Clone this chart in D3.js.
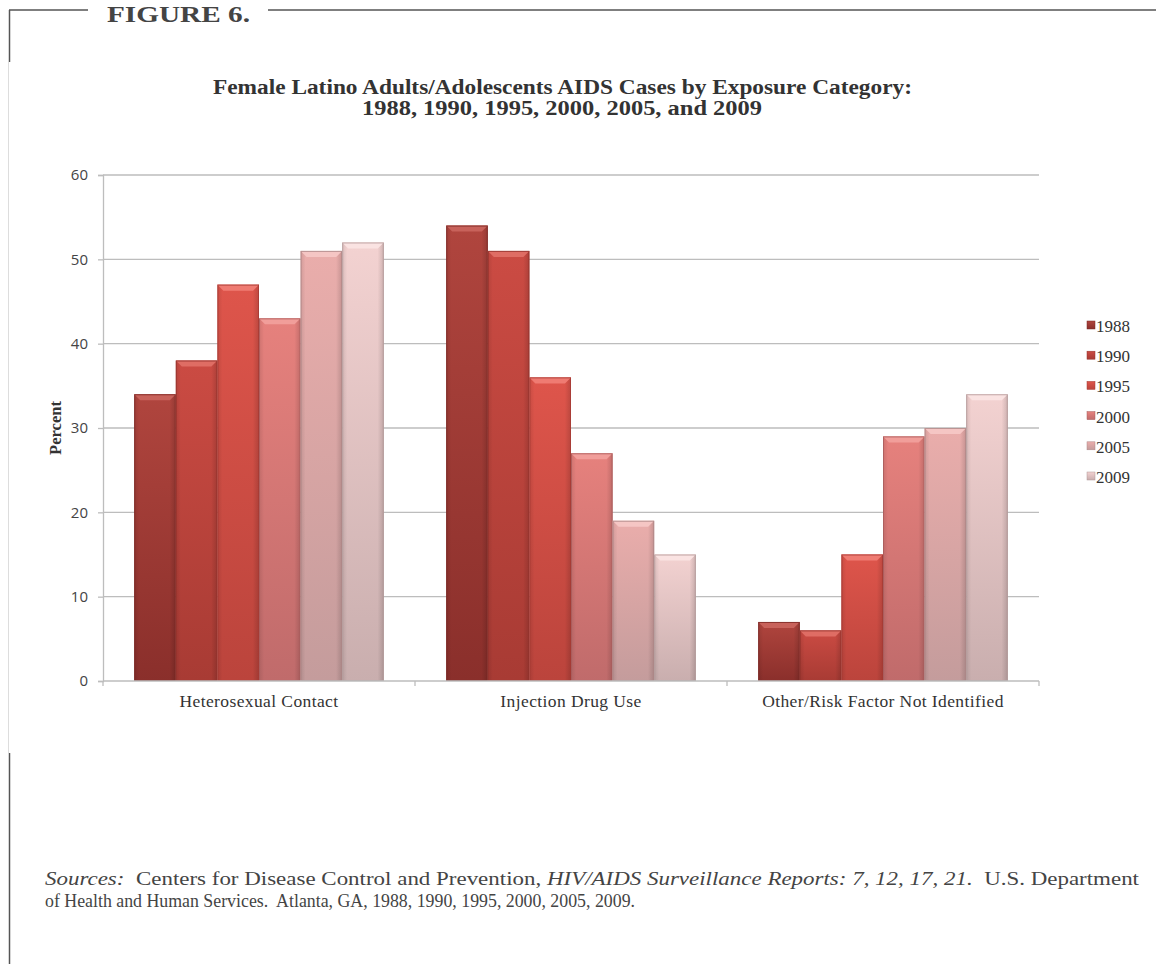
<!DOCTYPE html>
<html>
<head>
<meta charset="utf-8">
<script src="https://cdn.jsdelivr.net/npm/d3@7"></script>
<style>
  html, body { margin: 0; padding: 0; background: #fff; }
  svg { display: block; }
</style>
</head>
<body>
<svg id="chart" width="1156" height="964"></svg>
<script>
// ---- Data ----
const categories = ["Heterosexual Contact", "Injection Drug Use", "Other/Risk Factor Not Identified"];
const years = ["1988", "1990", "1995", "2000", "2005", "2009"];
const values1988 = [34, 54, 7];
const values1990 = [38, 51, 6];
const values1995 = [47, 36, 15];
const values2000 = [43, 27, 29];
const values2005 = [51, 19, 30];
const values2009 = [52, 15, 34];
const yTicks = [0, 10, 20, 30, 40, 50, 60];
const titleLines = ["Female Latino Adults/Adolescents AIDS Cases by Exposure Category:", "1988, 1990, 1995, 2000, 2005, and 2009"];

const seriesValues = [values1988, values1990, values1995, values2000, values2005, values2009];
// colours: [top, bottom, highlight, edge]
const colors = {
  "1988": ["#b0453e", "#8a2f2b", "#c8625b", "#7a2824"],
  "1990": ["#cb4b43", "#a83b34", "#df6d64", "#94332d"],
  "1995": ["#de554b", "#bb443c", "#ef7b72", "#a53b34"],
  "2000": ["#e6817d", "#c06b6b", "#f19e9a", "#a85b5b"],
  "2005": ["#eaadab", "#c49c9c", "#f5c6c4", "#ad8787"],
  "2009": ["#f3d2d1", "#c9aeae", "#fae3e2", "#b09797"]
};

const svg = d3.select("#chart");
const defs = svg.append("defs");
years.forEach(yr => {
  const g = defs.append("linearGradient").attr("id", "g" + yr)
    .attr("x1", 0).attr("y1", 0).attr("x2", 0).attr("y2", 1);
  g.append("stop").attr("offset", "0%").attr("stop-color", colors[yr][0]);
  g.append("stop").attr("offset", "100%").attr("stop-color", colors[yr][1]);
  const h = defs.append("linearGradient").attr("id", "h" + yr)
    .attr("x1", 0).attr("y1", 0).attr("x2", 1).attr("y2", 0);
  h.append("stop").attr("offset", "0%").attr("stop-color", "#000").attr("stop-opacity", 0.10);
  h.append("stop").attr("offset", "12%").attr("stop-color", "#000").attr("stop-opacity", 0);
  h.append("stop").attr("offset", "85%").attr("stop-color", "#000").attr("stop-opacity", 0);
  h.append("stop").attr("offset", "100%").attr("stop-color", "#000").attr("stop-opacity", 0.15);
});

const serif = "'Liberation Serif', 'Times New Roman', serif";

// ---- Frame ----
const frame = svg.append("g");
frame.append("line").attr("x1", 9).attr("x2", 88).attr("y1", 10).attr("y2", 10).attr("stroke", "#555").attr("stroke-width", 1.5);
frame.append("line").attr("x1", 268).attr("x2", 1156).attr("y1", 10).attr("y2", 10).attr("stroke", "#555").attr("stroke-width", 1.5);
frame.append("line").attr("x1", 9.5).attr("x2", 9.5).attr("y1", 10).attr("y2", 62).attr("stroke", "#555").attr("stroke-width", 1.5);
frame.append("line").attr("x1", 8.5).attr("x2", 8.5).attr("y1", 62).attr("y2", 753).attr("stroke", "#ddd").attr("stroke-width", 1);
frame.append("line").attr("x1", 9.5).attr("x2", 9.5).attr("y1", 753).attr("y2", 964).attr("stroke", "#555").attr("stroke-width", 1.5);
frame.append("text").attr("x", 107).attr("y", 22)
  .attr("font-family", serif).attr("font-weight", "bold")
  .attr("font-size", 24).attr("fill", "#444").attr("textLength", 143).attr("lengthAdjust", "spacingAndGlyphs")
  .text("FIGURE 6.");

// ---- Title ----
svg.append("text").attr("x", 213).attr("y", 94)
  .attr("font-family", serif).attr("font-weight", "bold")
  .attr("font-size", 20).attr("fill", "#333")
  .attr("textLength", 699).attr("lengthAdjust", "spacingAndGlyphs")
  .text(titleLines[0]);
svg.append("text").attr("x", 362).attr("y", 115)
  .attr("font-family", serif).attr("font-weight", "bold")
  .attr("font-size", 20).attr("fill", "#333")
  .attr("textLength", 400).attr("lengthAdjust", "spacingAndGlyphs")
  .text(titleLines[1]);

// ---- Scales ----
const x0 = d3.scaleBand().domain(categories).range([103, 1039]).paddingInner(0.2).paddingOuter(0.1);
const x1 = d3.scaleBand().domain(years).range([0, x0.bandwidth()]).padding(0);
const y = d3.scaleLinear().domain([0, 60]).range([681, 175]);

// gridlines
svg.append("g").selectAll("line").data(yTicks.filter(t => t > 0)).join("line")
  .attr("x1", 103).attr("x2", 1039)
  .attr("y1", d => y(d)).attr("y2", d => y(d))
  .attr("stroke", "#bdbdbd").attr("stroke-width", 1.3);

// y axis
const yAxis = d3.axisLeft(y).tickValues(yTicks).tickSize(5).tickPadding(10);
const ya = svg.append("g").attr("transform", "translate(103,0)").call(yAxis);
ya.select(".domain").attr("stroke", "#bdbdbd").attr("stroke-width", 1.3);
ya.selectAll(".tick line").attr("stroke", "#bdbdbd").attr("stroke-width", 1.3);
ya.selectAll(".tick text").attr("font-family", "'Open Sans', sans-serif").attr("font-size", 15).attr("fill", "#444");

svg.append("text").attr("transform", "translate(61,428) rotate(-90)")
  .attr("text-anchor", "middle")
  .attr("font-family", serif).attr("font-weight", "bold")
  .attr("font-size", 16.5).attr("fill", "#333").text("Percent");

// ---- Bars ----
const barData = [];
categories.forEach((c, ci) => {
  years.forEach((yr, si) => {
    barData.push({ cat: c, year: yr, value: seriesValues[si][ci] });
  });
});
const bars = svg.append("g").selectAll("g").data(barData).join("g");
bars.append("rect")
  .attr("x", d => x0(d.cat) + x1(d.year))
  .attr("y", d => y(d.value))
  .attr("width", x1.bandwidth())
  .attr("height", d => y(0) - y(d.value))
  .attr("fill", d => "url(#g" + d.year + ")");
bars.append("rect")
  .attr("x", d => x0(d.cat) + x1(d.year))
  .attr("y", d => y(d.value))
  .attr("width", x1.bandwidth())
  .attr("height", d => y(0) - y(d.value))
  .attr("fill", d => "url(#h" + d.year + ")");
// top bevel
const bev = 6;
bars.append("path")
  .attr("d", d => {
    const xa = x0(d.cat) + x1(d.year), xb = xa + x1.bandwidth(), yt = y(d.value);
    return `M${xa},${yt}L${xb},${yt}L${xb - bev},${yt + bev}L${xa + bev},${yt + bev}Z`;
  })
  .attr("fill", d => colors[d.year][2]);
// outline
bars.append("rect")
  .attr("x", d => x0(d.cat) + x1(d.year) + 0.5)
  .attr("y", d => y(d.value) + 0.5)
  .attr("width", x1.bandwidth() - 1)
  .attr("height", d => y(0) - y(d.value) - 1)
  .attr("fill", "none")
  .attr("stroke", d => colors[d.year][3]).attr("stroke-width", 1).attr("stroke-opacity", 0.8);

// x axis baseline
svg.append("line").attr("x1", 103).attr("x2", 1039).attr("y1", y(0)).attr("y2", y(0))
  .attr("stroke", "#bdbdbd").attr("stroke-width", 1.3);
const boundaries = [103].concat(categories.map(c => x0(c) + x0.bandwidth() + x0.step() * 0.1));
svg.append("g").selectAll("line").data(boundaries).join("line")
  .attr("x1", d => d).attr("x2", d => d)
  .attr("y1", y(0)).attr("y2", y(0) + 5)
  .attr("stroke", "#bdbdbd").attr("stroke-width", 1.3);
svg.append("g").selectAll("text").data(categories).join("text")
  .attr("x", d => x0(d) + x0.bandwidth() / 2)
  .attr("y", 707)
  .attr("text-anchor", "middle")
  .attr("font-family", serif)
  .attr("font-size", 17.5).attr("letter-spacing", 0.4).attr("fill", "#333")
  .text(d => d);

// ---- Legend ----
const legend = svg.append("g").selectAll("g").data(years).join("g")
  .attr("transform", (d, i) => `translate(1087,${321 + i * 30.2})`);
legend.append("rect").attr("x", 0).attr("y", 0).attr("width", 8).attr("height", 8)
  .attr("fill", d => "url(#g" + d + ")").attr("stroke", d => colors[d][3]).attr("stroke-width", 0.5);
legend.append("text").attr("x", 9).attr("y", 11)
  .attr("font-family", serif)
  .attr("font-size", 17).attr("fill", "#333")
  .text(d => d);

// ---- Sources ----
const src = svg.append("g").attr("font-family", serif).attr("font-size", 18).attr("fill", "#444");
const t1 = src.append("text").attr("x", 45).attr("y", 885)
  .attr("textLength", 1094).attr("lengthAdjust", "spacingAndGlyphs");
t1.append("tspan").attr("font-style", "italic").text("Sources:");
t1.append("tspan").text("\u00a0 Centers for Disease Control and Prevention, ");
t1.append("tspan").attr("font-style", "italic").text("HIV/AIDS Surveillance Reports: 7, 12, 17, 21.");
t1.append("tspan").text("\u00a0 U.S. Department");
src.append("text").attr("x", 45).attr("y", 907)
  .attr("textLength", 590).attr("lengthAdjust", "spacingAndGlyphs")
  .text("of Health and Human Services.\u00a0 Atlanta, GA, 1988, 1990, 1995, 2000, 2005, 2009.");
</script>
</body>
</html>
